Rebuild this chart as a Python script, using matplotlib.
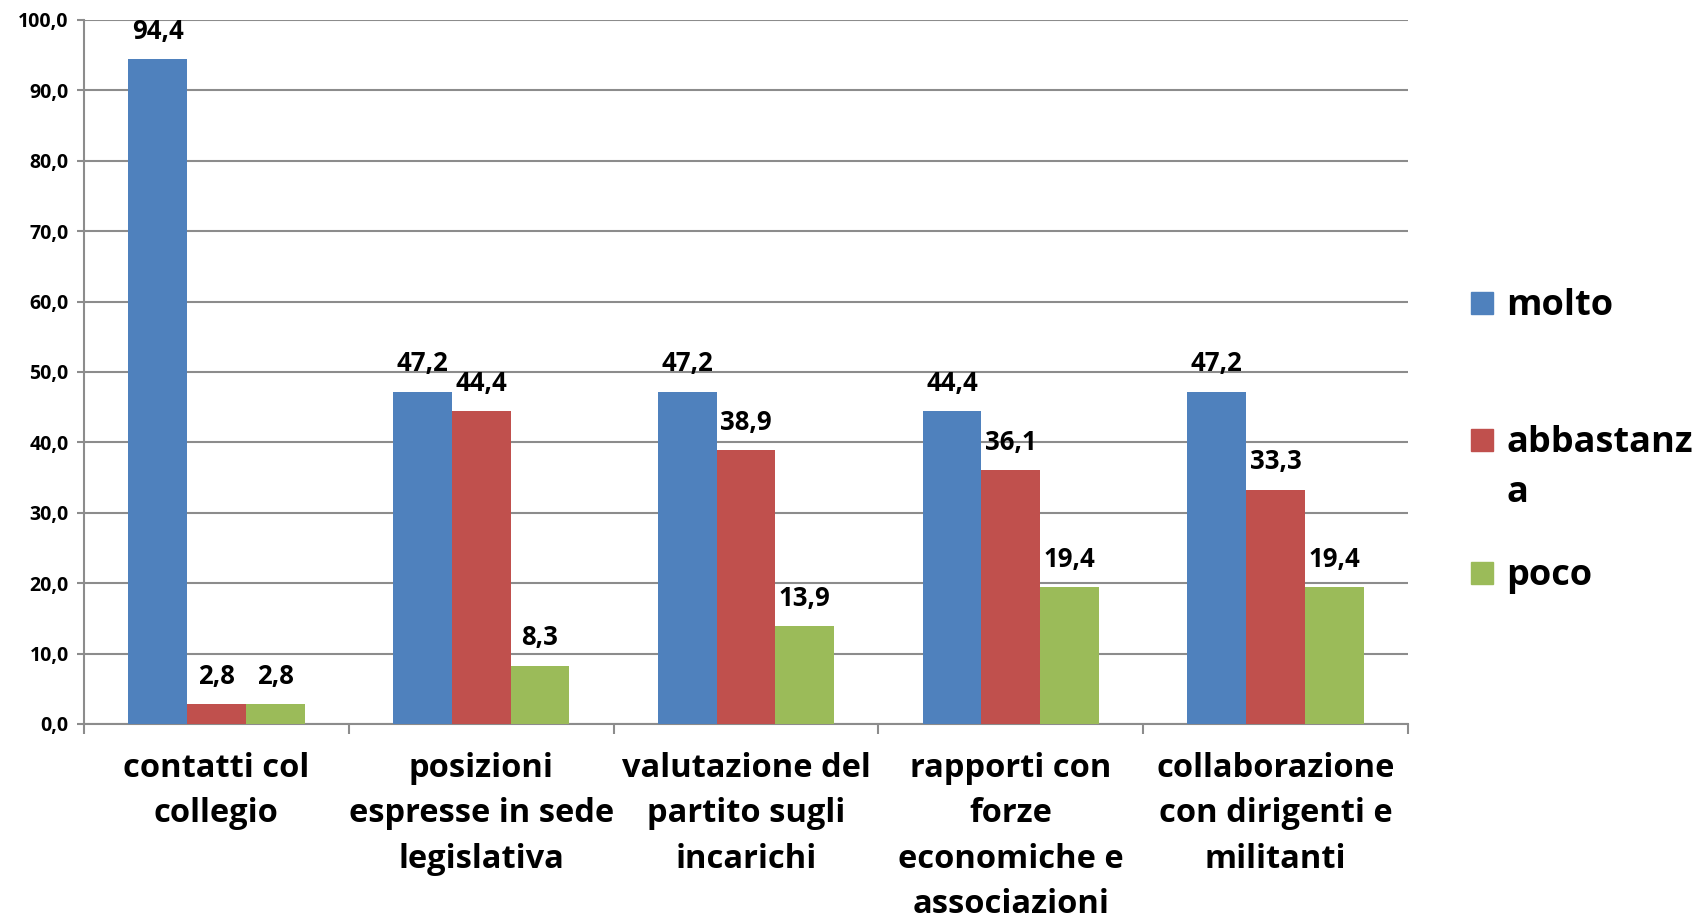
import matplotlib
matplotlib.use("Agg")
import matplotlib.pyplot as plt
import numpy as np
from matplotlib.patches import Rectangle

categories = ["contatti col\ncollegio",
              "posizioni\nespresse in sede\nlegislativa",
              "valutazione del\npartito sugli\nincarichi",
              "rapporti con\nforze\neconomiche e\nassociazioni",
              "collaborazione\ncon dirigenti e\nmilitanti"]
series_names = ["molto", "abbastanza", "poco"]
legend_lines = [["molto"], ["abbastanz", "a"], ["poco"]]
molto = [94.4, 47.2, 47.2, 44.4, 47.2]
abbastanza = [2.8, 44.4, 38.9, 36.1, 33.3]
poco = [2.8, 8.3, 13.9, 19.4, 19.4]
colors = ["#4F81BD", "#C0504D", "#9BBB59"]
yticks = [0, 10, 20, 30, 40, 50, 60, 70, 80, 90, 100]

FONT = "Open Sans"
plt.rcParams['font.family'] = [FONT, 'DejaVu Sans']
plt.rcParams['font.weight'] = 'bold'

W, H = 1696, 923
fig = plt.figure(figsize=(W/100, H/100), dpi=100)
ax = fig.add_axes([84/W, 1-724/H, (1408-84)/W, (724-20)/H])

n = len(categories)
x = np.arange(n)
bw = 0.222
data = [molto, abbastanza, poco]
for i, (vals, c) in enumerate(zip(data, colors)):
    pos = x + (i - 1) * bw
    ax.bar(pos, vals, width=bw, color=c, zorder=3, linewidth=0)
    for xp, v in zip(pos, vals):
        ax.annotate(f"{v:.1f}".replace(".", ","), (xp, v), xytext=(0, 20),
                    textcoords="offset points", ha="center", va="center",
                    fontsize=18.5, fontweight="bold", color="black")

ax.set_xlim(-0.5, n - 0.5)
ax.set_ylim(0, 100)
ax.set_yticks(yticks)
ax.set_yticklabels([f"{v:.1f}".replace(".", ",") for v in yticks], fontsize=14, fontweight="bold")
ax.yaxis.grid(True, color="#8C8C8C", linewidth=1.5, zorder=0)
ax.set_axisbelow(True)

ax.set_xticks(np.arange(n + 1) - 0.5)
ax.set_xticklabels([])
ax.set_xticks(x, minor=True)
ax.set_xticklabels(categories, minor=True, fontsize=23.5, fontweight="bold", linespacing=1.5)
ax.tick_params(axis="x", which="major", length=7, width=1.5, color="#8C8C8C", direction="out")
ax.tick_params(axis="x", which="minor", length=0, pad=20)
ax.tick_params(axis="y", length=5, width=1.5, color="#8C8C8C", pad=6)

for s in ["top", "right"]:
    ax.spines[s].set_visible(False)
for s in ["left", "bottom"]:
    ax.spines[s].set_color("#8C8C8C")
    ax.spines[s].set_linewidth(1.5)

# legend drawn manually
leg_y = [303, 440, 573]
for lines, c, yy in zip(legend_lines, colors, leg_y):
    fig.patches.append(Rectangle((1471/W, 1-(yy+11)/H), 22/W, 22/H, transform=fig.transFigure,
                                 color=c, figure=fig))
    for k, ln in enumerate(lines):
        fig.text(1506/W, 1-(yy + 3 + 50*k)/H, ln, ha="left", va="center",
                 fontsize=26, fontweight="bold")

fig.savefig("out.png", dpi=100, facecolor="white")
